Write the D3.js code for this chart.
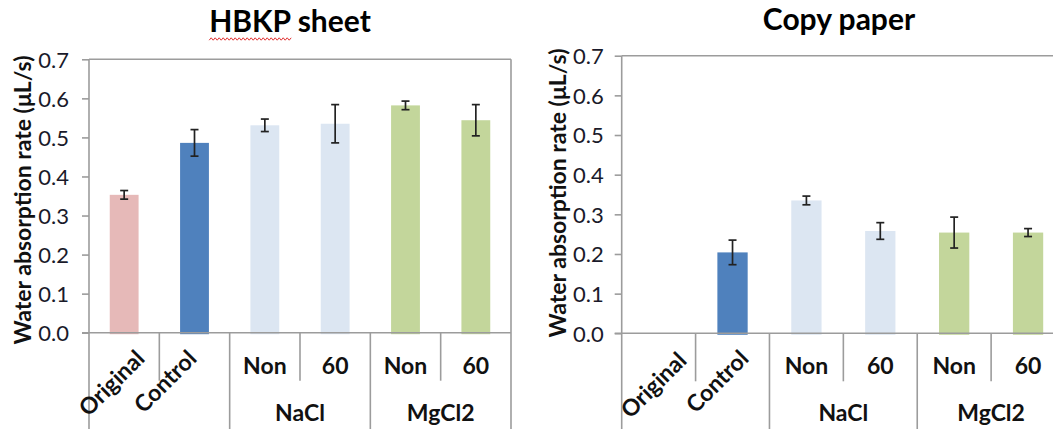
<!DOCTYPE html>
<html><head><meta charset="utf-8">
<script src="https://cdn.jsdelivr.net/npm/d3@7"></script>
<style>
html,body{margin:0;padding:0;background:#fff;}
svg{display:block;font-family:Lato,"Open Sans",sans-serif;}
</style></head><body>
<svg id="chart" width="1053" height="429"></svg>
<script>
// Categories along the x axis (inner level) and their outer grouping
const categories = ["Original", "Control", "Non", "60", "Non", "60"];
const groupLabels = ["NaCl", "MgCl2"];
const groupMembers = [[2, 3], [4, 5]];
const barColors = ["#E6B9B8", "#4F81BD", "#DCE6F2", "#DCE6F2", "#C3D69B", "#C3D69B"];
const yTicks = [0, 0.1, 0.2, 0.3, 0.4, 0.5, 0.6, 0.7];

// Water absorption rate (µL/s), mean and error
const hbkpValues = [0.353, 0.486, 0.531, 0.535, 0.582, 0.544];
const hbkpErrors = [0.011, 0.034, 0.016, 0.049, 0.011, 0.040];
const copyValues = [null, 0.204, 0.335, 0.258, 0.254, 0.254];
const copyErrors = [null, 0.031, 0.011, 0.021, 0.039, 0.010];

const svg = d3.select("#chart");
const axisColor = "#9c9c9c";
const labelSize = 23;

const panels = [
  { title: "HBKP sheet", values: hbkpValues, errors: hbkpErrors,
    left: 89, right: 511, top: 59.3, bottom: 332.7,
    titleX: 290, titleY: 32, yTitleX: 22, yTitleY: 200, tickPad: 13,
    rotEnds: [[146, 360], [198, 360]], spellMark: true },
  { title: "Copy paper", values: copyValues, errors: copyErrors,
    left: 621.7, right: 1065, top: 55.7, bottom: 333.3,
    titleX: 839, titleY: 30, yTitleX: 557, yTitleY: 193, tickPad: 11,
    rotEnds: [[688, 362], [750, 360]], spellMark: false }
];

panels.forEach(p => {
  const g = svg.append("g");
  const x = d3.scaleBand().domain(d3.range(categories.length)).range([p.left, p.right]).padding(0);
  const y = d3.scaleLinear().domain([0, 0.7]).range([p.bottom, p.top]);
  const bw = x.bandwidth();
  const barW = bw * 0.41;

  // plot area frame: top and right edges
  g.append("line").attr("x1", p.left).attr("x2", p.right).attr("y1", p.top).attr("y2", p.top)
    .attr("stroke", axisColor).attr("stroke-width", 1.6);
  g.append("line").attr("x1", p.right).attr("x2", p.right).attr("y1", p.top).attr("y2", 429)
    .attr("stroke", axisColor).attr("stroke-width", 1.6);

  // bars
  const idx = d3.range(categories.length).filter(i => p.values[i] != null);
  g.selectAll("rect.bar").data(idx).join("rect").attr("class", "bar")
    .attr("x", i => x(i) + (bw - barW) / 2)
    .attr("width", barW)
    .attr("y", i => y(p.values[i]))
    .attr("height", i => y(0) - y(p.values[i]) + 1.5)
    .attr("fill", i => barColors[i]);

  // error bars
  const eb = g.selectAll("g.err").data(idx).join("g").attr("class", "err")
    .attr("stroke", "#222").attr("stroke-width", 1.7);
  const cx = i => x(i) + bw / 2;
  eb.append("line").attr("x1", cx).attr("x2", cx)
    .attr("y1", i => y(p.values[i] + p.errors[i])).attr("y2", i => y(p.values[i] - p.errors[i]));
  eb.append("line").attr("x1", i => cx(i) - 4).attr("x2", i => cx(i) + 4)
    .attr("y1", i => y(p.values[i] + p.errors[i])).attr("y2", i => y(p.values[i] + p.errors[i]));
  eb.append("line").attr("x1", i => cx(i) - 4).attr("x2", i => cx(i) + 4)
    .attr("y1", i => y(p.values[i] - p.errors[i])).attr("y2", i => y(p.values[i] - p.errors[i]));

  // y axis
  const yAxis = g.append("g").attr("transform", `translate(${p.left},0)`)
    .call(d3.axisLeft(y).tickValues(yTicks).tickFormat(d3.format(".1f")).tickSize(7).tickPadding(p.tickPad));
  yAxis.select(".domain").remove();
  yAxis.selectAll(".tick line").attr("stroke", axisColor).attr("stroke-width", 1.6);
  yAxis.selectAll(".tick text").attr("fill", "#1a1a2a").style("font-size", "22px")
    .style("font-family", "Lato,'Open Sans',sans-serif").attr("dy", "0.36em");
  g.append("line").attr("x1", p.left).attr("x2", p.left).attr("y1", p.top).attr("y2", 429)
    .attr("stroke", axisColor).attr("stroke-width", 1.6);

  // x axis baseline
  g.append("line").attr("x1", p.left - 7).attr("x2", p.right).attr("y1", y(0)).attr("y2", y(0))
    .attr("stroke", axisColor).attr("stroke-width", 1.6);

  // category separators: long ones between groups, short ones inside groups
  const longSep = [2, 4];
  d3.range(1, categories.length).forEach(i => {
    const long = longSep.includes(i);
    g.append("line").attr("x1", x(i)).attr("x2", x(i)).attr("y1", y(0))
      .attr("y2", long ? 429 : y(0) + 48)
      .attr("stroke", axisColor).attr("stroke-width", 1.6);
  });

  // inner category labels
  [2, 3, 4, 5].forEach(i => {
    g.append("text").attr("x", x(i) + bw / 2).attr("y", y(0) + 41)
      .attr("text-anchor", "middle").attr("font-weight", "bold").attr("font-size", labelSize)
      .attr("fill", "#111").text(categories[i]);
  });
  // rotated labels for the ungrouped categories
  [0, 1].forEach(i => {
    const [ex, ey] = p.rotEnds[i];
    g.append("text").attr("transform", `translate(${ex},${ey}) rotate(-45)`)
      .attr("text-anchor", "end").attr("font-weight", "bold").attr("font-size", labelSize)
      .attr("fill", "#111").text(categories[i]);
  });
  // outer group labels
  groupLabels.forEach((lab, k) => {
    const [a, b] = groupMembers[k];
    const mid = (x(a) + x(b) + bw) / 2;
    g.append("text").attr("x", mid).attr("y", y(0) + 88)
      .attr("text-anchor", "middle").attr("font-weight", "bold").attr("font-size", labelSize)
      .attr("fill", "#111").text(lab);
  });

  // titles
  const t = g.append("text").attr("x", p.titleX).attr("y", p.titleY)
    .attr("text-anchor", "middle").attr("font-weight", "bold").attr("font-size", 30)
    .attr("fill", "#000").text(p.title);
  g.append("text").attr("transform", `translate(${p.yTitleX},${p.yTitleY}) rotate(-90)`)
    .attr("text-anchor", "middle").attr("dominant-baseline", "central")
    .attr("font-weight", "bold").attr("font-size", 23).attr("fill", "#111")
    .text("Water absorption rate (μL/s)");

  // wavy proofing underline beneath the first word of the title
  if (p.spellMark) {
    const word = p.title.split(" ")[0];
    const tmp = g.append("text").attr("font-weight", "bold").attr("font-size", 30).text(word);
    const wordW = tmp.node().getComputedTextLength();
    tmp.remove();
    const full = t.node().getComputedTextLength();
    const x0 = p.titleX - full / 2, x1 = x0 + wordW;
    const pts = [];
    for (let xx = x0, k = 0; xx <= x1; xx += 2, k++) pts.push([xx, p.titleY + 7 + (k % 2 ? -1.2 : 1.2)]);
    g.append("path").attr("d", d3.line()(pts)).attr("fill", "none")
      .attr("stroke", "#e03030").attr("stroke-width", 1);
  }
});
</script>
</body></html>
